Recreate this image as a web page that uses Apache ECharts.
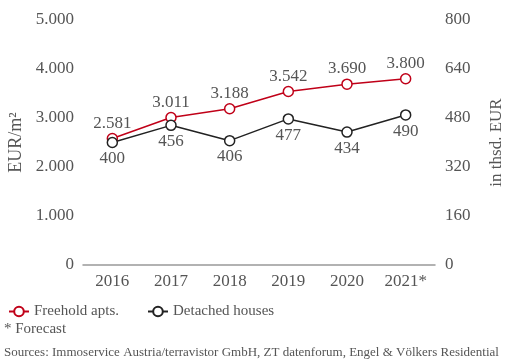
<!DOCTYPE html>
<html><head><meta charset="utf-8">
<script src="https://cdn.jsdelivr.net/npm/echarts@6/dist/echarts.min.js"></script>
<style>html,body{margin:0;padding:0;background:#fff}#c{width:515px;height:362px}</style>
</head><body><div id="c"></div>
<script>
const categories = ['2016','2017','2018','2019','2020','2021*'];
const freehold = [2581, 3011, 3188, 3542, 3690, 3800];
const detached = [400, 456, 406, 477, 434, 490];
const leftTicks = [0, 1000, 2000, 3000, 4000, 5000];
const rightTicks = [0, 160, 320, 480, 640, 800];

const fmt = v => String(v).replace(/\B(?=(\d{3})+(?!\d))/g, '.');
const FONT = 'Liberation Serif';
const TXT = '#555';
const chart = echarts.init(document.getElementById('c'), null, {renderer:'canvas'});
chart.setOption({
  animation:false,
  textStyle:{fontFamily:FONT},
  grid:{left:83, right:80, top:20, bottom:97, containLabel:false, outerBoundsMode:'none'},
  xAxis:{type:'category', data:categories, boundaryGap:true,
    axisLine:{lineStyle:{color:'#999', width:1.5}}, axisTick:{show:false},
    axisLabel:{color:TXT, fontSize:17, fontFamily:FONT, margin:8}},
  yAxis:[
    {type:'value', min:leftTicks[0], max:leftTicks[leftTicks.length-1], interval:1000,
     name:'EUR/m²', nameLocation:'middle', nameGap:58, nameRotate:90,
     nameTextStyle:{color:TXT, fontSize:18, fontFamily:FONT},
     splitLine:{show:false}, axisLine:{show:false}, axisTick:{show:false},
     axisLabel:{color:TXT, fontSize:17, fontFamily:FONT, margin:9, formatter:fmt}},
    {type:'value', min:rightTicks[0], max:rightTicks[rightTicks.length-1], interval:160,
     name:'in thsd. EUR', nameLocation:'middle', nameGap:53, nameRotate:90,
     nameTextStyle:{color:TXT, fontSize:17, fontFamily:FONT},
     splitLine:{show:false}, axisLine:{show:false}, axisTick:{show:false},
     axisLabel:{color:TXT, fontSize:17, fontFamily:FONT, margin:10}}
  ],
  legend:{left:3, top:299, itemWidth:20, itemHeight:12, itemGap:28,
    textStyle:{color:TXT, fontSize:15, fontFamily:FONT},
    data:['Freehold apts.','Detached houses']},
  series:[
    {name:'Freehold apts.', type:'line', yAxisIndex:0, data:freehold,
     symbol:'circle', symbolSize:10, lineStyle:{color:'#c00018', width:1.5},
     itemStyle:{color:'#fff', borderColor:'#c00018', borderWidth:1.5},
     label:{show:true, position:'top', distance:1, color:TXT, fontSize:17, fontFamily:FONT, formatter:p=>fmt(p.value)}},
    {name:'Detached houses', type:'line', yAxisIndex:1, data:detached,
     symbol:'circle', symbolSize:10, lineStyle:{color:'#222', width:1.5},
     itemStyle:{color:'#fff', borderColor:'#222', borderWidth:1.5},
     label:{show:true, position:'bottom', distance:2, color:TXT, fontSize:17, fontFamily:FONT}}
  ],
  graphic:[
    {type:'text', left:4, top:322, style:{text:'* Forecast', fill:TXT, font:'15px "Liberation Serif"'}},
    {type:'text', left:4, top:346, style:{text:'Sources: Immoservice Austria/terravistor GmbH, ZT datenforum, Engel & Völkers Residential', fill:TXT, font:'13px "Liberation Serif"'}}
  ]
});
</script></body></html>
